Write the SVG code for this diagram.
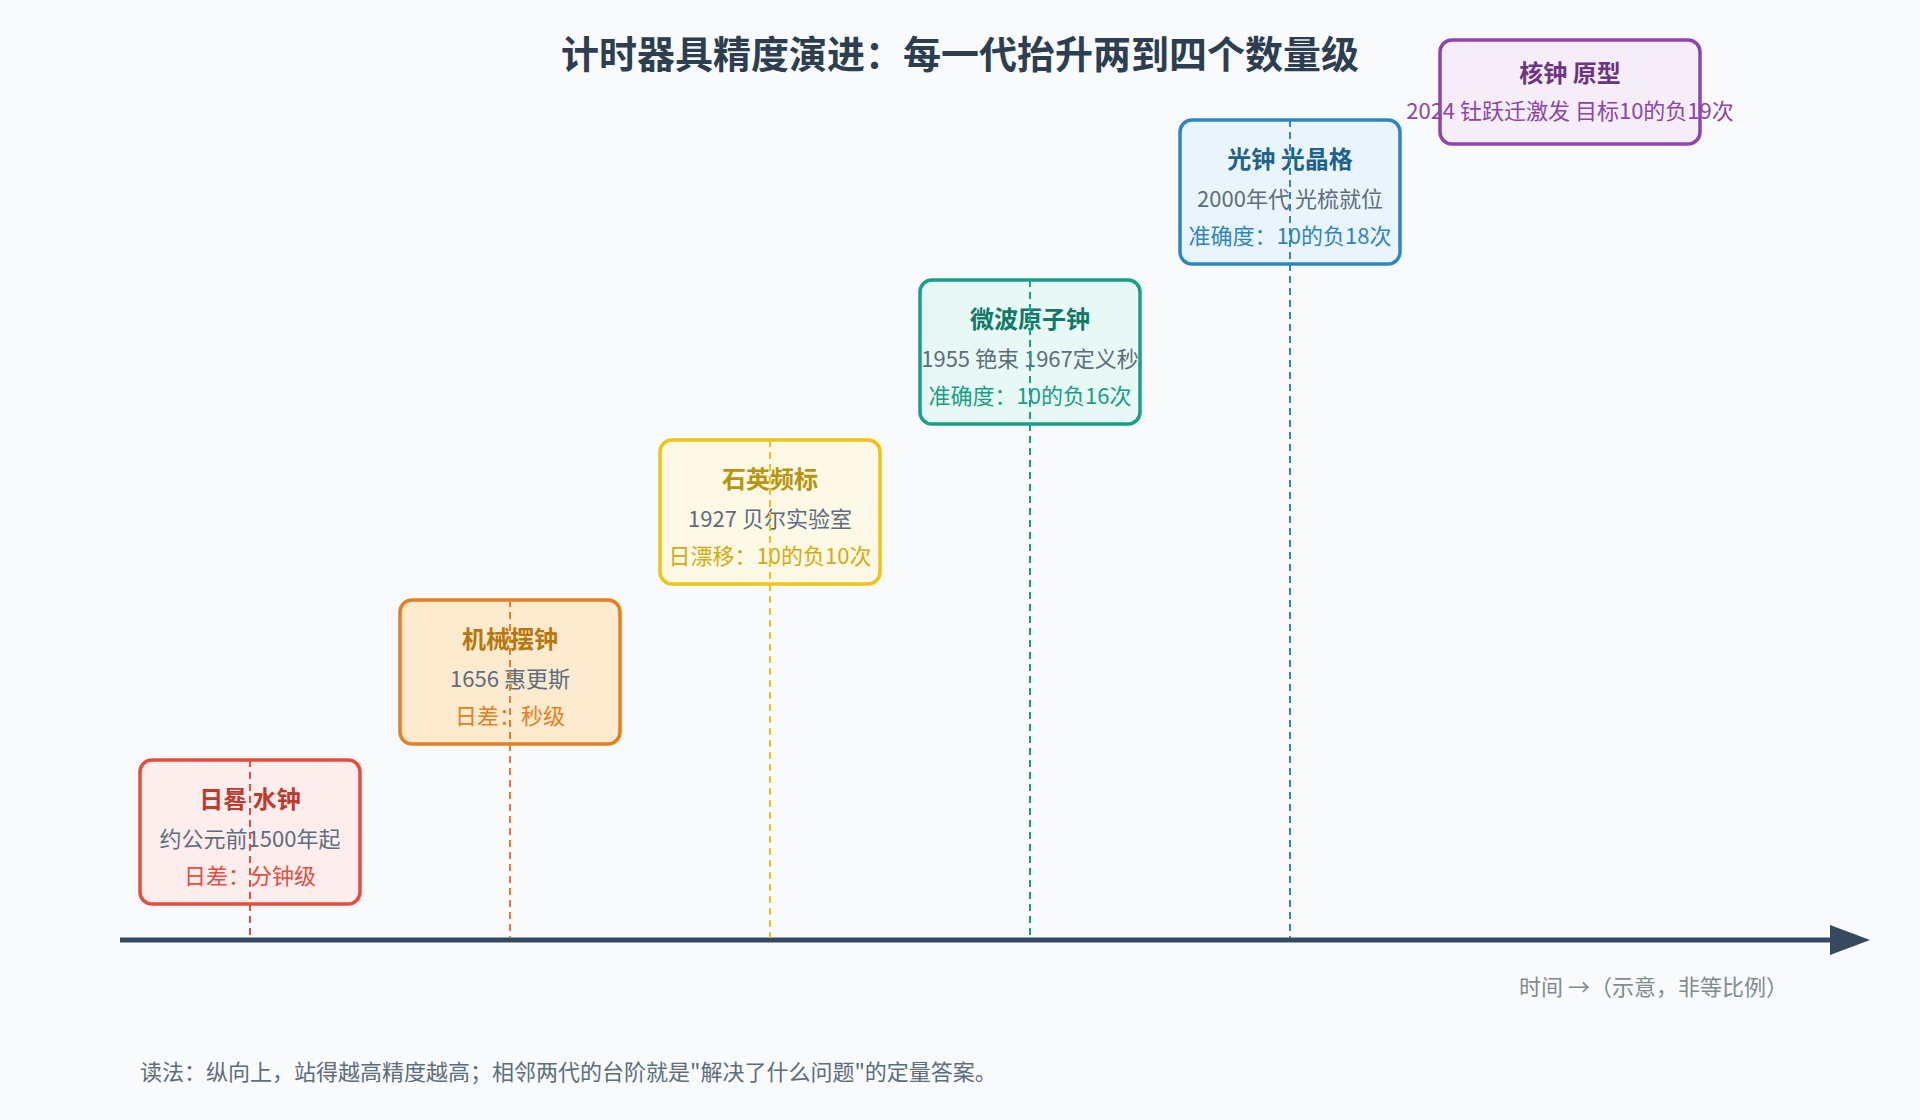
<svg xmlns="http://www.w3.org/2000/svg" width="1920" height="1120" viewBox="0 0 1920 1120">
<style>
text{font-family:"Noto Sans CJK SC","Noto Sans",sans-serif;text-anchor:middle}
.t{font-size:24px;font-weight:bold}
.s{font-size:22px;fill:#5d6d7e}
.d{font-size:22px}
.box{stroke-width:3.5}
.v{stroke-width:2;stroke-dasharray:7 5;fill:none}
</style>
<defs><marker id="ah" viewBox="0 0 10 10" refX="1" refY="5" markerWidth="8" markerHeight="8" markerUnits="userSpaceOnUse" orient="auto"><path d="M0 0L10 5L0 10z" fill="#34495e"/></marker></defs>
<rect width="1920" height="1120" fill="#f8fafc"/>
<text x="960" y="68" style="font-size:38px;font-weight:bold;fill:#2c3e50">计时器具精度演进：每一代抬升两到四个数量级</text>
<g id="n1"><rect class="box" x="140" y="760" width="220" height="144" rx="12" fill="#fdeded" stroke="#e74c3c"/><text class="t" x="250" y="808" fill="#c0392b">日晷 水钟</text><text class="s" x="250" y="847">约公元前1500年起</text><text class="d" x="250" y="884" fill="#e74c3c">日差：分钟级</text></g>
<g id="n2"><rect class="box" x="400" y="600" width="220" height="144" rx="12" fill="#fdebd0" stroke="#e67e22"/><text class="t" x="510" y="648" fill="#b9770e">机械摆钟</text><text class="s" x="510" y="687">1656 惠更斯</text><text class="d" x="510" y="724" fill="#e67e22">日差：秒级</text></g>
<g id="n3"><rect class="box" x="660" y="440" width="220" height="144" rx="12" fill="#fef8e6" stroke="#f1c40f"/><text class="t" x="770" y="488" fill="#b7950b">石英频标</text><text class="s" x="770" y="527">1927 贝尔实验室</text><text class="d" x="770" y="564" fill="#d4ac0d">日漂移：10的负10次</text></g>
<g id="n4"><rect class="box" x="920" y="280" width="220" height="144" rx="12" fill="#e8f8f5" stroke="#16a085"/><text class="t" x="1030" y="328" fill="#117a65">微波原子钟</text><text class="s" x="1030" y="367">1955 铯束 1967定义秒</text><text class="d" x="1030" y="404" fill="#16a085">准确度：10的负16次</text></g>
<g id="n5"><rect class="box" x="1180" y="120" width="220" height="144" rx="12" fill="#eaf4fc" stroke="#2e86c1"/><text class="t" x="1290" y="168" fill="#1f618d">光钟 光晶格</text><text class="s" x="1290" y="207">2000年代 光梳就位</text><text class="d" x="1290" y="244" fill="#2e86c1">准确度：10的负18次</text></g>
<g id="n6"><rect class="box" x="1440" y="40" width="260" height="104" rx="12" fill="#f5eef8" stroke="#8e44ad"/><text class="t" x="1570" y="82" fill="#6c3483">核钟 原型</text><text class="d" x="1570" y="119" fill="#8e44ad">2024 钍跃迁激发 目标10的负19次</text></g>
<g id="connectors">
<line x1="120" y1="940" x2="1838" y2="940" stroke="#34495e" stroke-width="5" marker-end="url(#ah)"/>
<path d="M1830 925L1870 940L1830 955z" fill="#34495e"/>
<line class="v" x1="250" y1="760" x2="250" y2="938" stroke="#e74c3c"/>
<line class="v" x1="510" y1="600" x2="510" y2="938" stroke="#e67e22"/>
<line class="v" x1="770" y1="440" x2="770" y2="938" stroke="#f1c40f"/>
<line class="v" x1="1030" y1="280" x2="1030" y2="938" stroke="#16a085"/>
<line class="v" x1="1290" y1="120" x2="1290" y2="938" stroke="#2e86c1"/>
</g>
<text x="1788" y="995" style="font-size:22px;fill:#7f8c8d;text-anchor:end">时间 →（示意，非等比例）</text>
<text x="140" y="1080" style="font-size:22px;fill:#5d6d7e;text-anchor:start">读法：纵向上，站得越高精度越高；相邻两代的台阶就是"解决了什么问题"的定量答案。</text>
</svg>
